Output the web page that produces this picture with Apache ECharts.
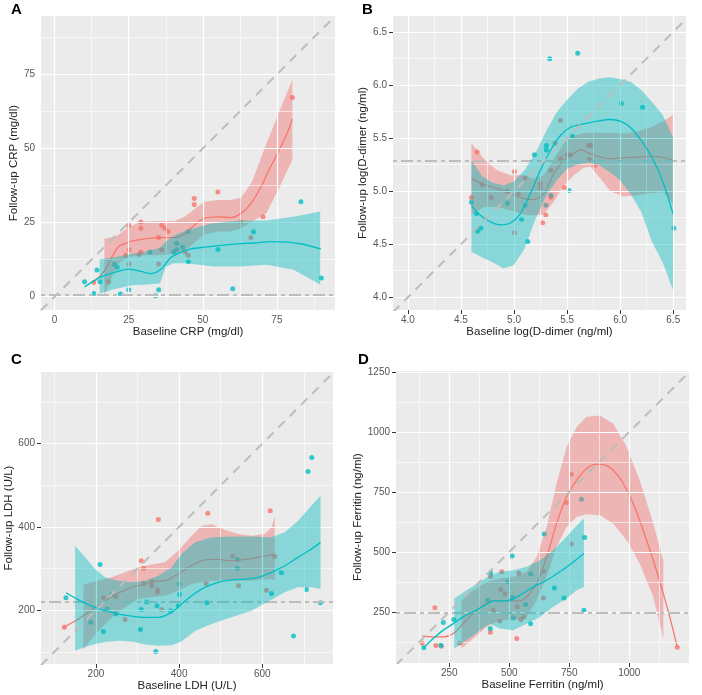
<!DOCTYPE html>
<html><head><meta charset="utf-8">
<script src="https://cdn.jsdelivr.net/npm/echarts@6/dist/echarts.min.js"></script>
<style>html,body{margin:0;padding:0;background:#fff}#c{width:702px;height:695px}</style>
</head><body><div id="c"></div>
<script>
// ---------- Panel A : CRP ----------
const aRedX = [13.1,25,29.1,29.1,36.1,37.2,38.3,47.1,47.1,55.1,25.1,29.1,35.1,70.3,63,80.2,24,25.1,28.5,35.1,36.1,44,45.1,66.2,18.2];
const aRedY = [4.8,24.1,25.2,23.1,24.1,23.1,22,33.1,31.1,35.3,15.8,15.1,20,27,25.2,67.2,14,11,14.2,11,15.8,15.1,14,20,5];
const aTealX = [10.1,13.2,14.3,15.3,20.1,21.1,22.2,25,32.2,34,35.1,40.2,41.2,41.2,43.2,45.1,45.1,55.1,60.1,67.1,83.1,90];
const aTealY = [5,1.1,9,5,10.9,9.9,0.9,2.3,15.1,0.3,2.3,15.1,18,15.8,16.7,21.9,11.9,15.9,2.7,21.9,32,6.3];
const aRedLineX = [13.1,16.8,21.3,25,29.2,34.8,40.4,43.8,47.1,50.5,55,59.5,62.9,66.3,69.6,72,74.5,77,79,80.2];
const aRedLineY = [4.8,8.7,16.6,18.4,19.3,19.9,19.9,21.2,24.1,26.4,26.9,26.7,28.1,31.5,37,42,47,52,56.5,60];
const aRedBandX = [16.8,19,21.3,25,29.2,34.8,40.4,43.8,47.1,50.5,55,59.5,62.9,66.5,71.5,76,80.2];
const aRedBandHi = [19.5,20,20.7,23.5,25.3,25.5,25.5,27,29.5,32,32.6,32.6,33.5,38.5,51.8,63,73.2];
const aRedBandLo = [0.5,6,11,13.3,14,14,14.5,15.5,18,21,22,22,23,25.3,28.2,37.2,46.2];
const aTealLineX = [10.1,15.3,20.2,24.9,29.2,32.6,35.9,39.3,42.7,46,50.5,56.1,61.7,67.4,73,78.6,84.2,89.8];
const aTealLineY = [3.3,6.5,8.2,9.3,8.5,7.8,9.3,13.3,15,16.1,16.7,17.3,17.8,18.1,18.6,18.4,17.6,16.1];
const aTealBandX = [15.2,20,26.5,30,35.5,37.5,40,44.5,53.5,62.5,71.5,80.6,89.6];
const aTealBandHi = [12.6,13.3,14.6,15,16.5,18.5,20.5,22.5,24.8,25.7,25.7,27,28.7];
const aTealBandLo = [1.1,2.5,3.9,4,4.4,10,11.3,11.3,10.2,10.2,10.8,9.1,4.1];
const aTicks = [0,25,50,75];
const aMinor = [12.5,37.5,62.5,87.5];
const aXLim = [-4.6,94.6];
const aYLim = [-4.5,94.7];
const aHLine = 0.8;

// ---------- Panel B : log(D-dimer) ----------
const bRedX = [4.652,4.599,5.004,5.004,5.27,5.299,5.346,5.474,5.437,5.387,5.72,5.70,5.763,4.784,4.935,5.041,5.104,5.248,5.248,5.348,5.44,5.5,5.53,5.71,4.70];
const bRedY = [5.368,4.939,5.186,4.607,4.701,4.776,4.942,5.033,5.665,5.452,5.43,5.43,5.243,4.939,5.002,4.973,5.124,5.07,5.03,5.196,5.305,5.343,5.343,5.3,5.06];
const bTealX = [4.599,4.646,4.656,4.687,4.938,5.07,5.129,5.192,5.305,5.305,5.348,5.104,5.518,5.55,6.011,6.211,6.506,5.337,5.60,5.30];
const bTealY = [4.895,4.786,4.623,4.651,4.886,4.736,4.526,5.343,5.43,5.387,4.961,4.867,5.005,5.518,5.825,5.79,4.651,6.248,6.30,4.867];
const bRedLineX = [4.599,4.715,4.841,4.966,5.092,5.186,5.28,5.374,5.468,5.562,5.625,5.719,5.813,5.907,6.033,6.158,6.283,6.409,6.497];
const bRedLineY = [5.117,5.064,5.023,4.977,4.93,4.92,4.977,5.164,5.289,5.352,5.39,5.352,5.32,5.305,5.315,5.32,5.327,5.315,5.29];
const bRedBandX = [4.599,4.715,4.841,4.966,5.092,5.186,5.28,5.374,5.468,5.562,5.656,5.719,5.813,5.907,6.033,6.158,6.283,6.409,6.497];
const bRedBandHi = [5.452,5.305,5.196,5.149,5.149,5.12,5.15,5.3,5.45,5.52,5.55,5.55,5.55,5.55,5.54,5.56,5.6,5.66,5.72];
const bRedBandLo = [4.78,4.85,4.85,4.82,4.78,4.77,4.78,4.9,5.05,5.15,5.22,5.23,5.12,5.0,4.95,4.96,4.98,4.99,4.88];
const bTealLineX = [4.599,4.684,4.778,4.872,4.966,5.06,5.154,5.248,5.343,5.437,5.531,5.656,5.782,5.907,6.001,6.095,6.221,6.315,6.409,6.497];
const bTealLineY = [4.861,4.773,4.71,4.682,4.70,4.789,4.977,5.196,5.383,5.524,5.602,5.634,5.659,5.675,5.659,5.602,5.446,5.289,5.07,4.789];
const bTealBandX = [4.599,4.70,4.80,4.90,5.00,5.10,5.20,5.30,5.40,5.50,5.60,5.70,5.80,5.90,6.00,6.10,6.20,6.30,6.40,6.497];
const bTealBandHi = [5.29,5.14,5.08,5.055,5.09,5.20,5.355,5.56,5.74,5.86,5.965,6.03,6.06,6.072,6.056,6.03,5.95,5.84,5.72,5.509];
const bTealBandLo = [4.429,4.375,4.33,4.272,4.304,4.46,4.73,4.95,5.10,5.21,5.25,5.27,5.245,5.18,5.10,4.97,4.80,4.52,4.33,4.069];
const bTicks = [4.0,4.5,5.0,5.5,6.0,6.5];
const bMinor = [4.25,4.75,5.25,5.75,6.25];
const bXLim = [3.86,6.62];
const bYLim = [3.88,6.65];
const bHLine = 5.29;

// ---------- Panel C : LDH ----------
const cRedX = [124,309,315,350,469,619,334,218,248,270,315,334,348,348,358,465,529,543,610,630];
const cRedY = [159,319,301,418,433,439,269,230,233,178,264,259,250,243,202,264,330,259,248,329];
const cTealX = [128,210,188,218,227,238,248,307,309,347,344,380,400,401,398,467,540,540,622,646,675,706,710,719,740,322];
const cTealY = [230,310,171,149,203,238,191,154,202,211,101,199,263,238,211,218,322,301,240,290,138,250,533,567,218,220];
const cRedLineX = [124,158,190,222,254,286,318,334,366,398,430,462,494,526,558,590,630];
const cRedLineY = [160,179,201,223,241,255,263,269,271,287,307,321,322,319,322,327,334];
const cRedBandX = [170,206,238,270,302,334,366,398,430,454,478,510,542,574,606,622,630];
const cRedBandHi = [262,271,279,291,303,310,315,343,379,403,407,393,383,379,383,399,425];
const cRedBandLo = [107,150,183,207,227,231,235,247,263,268,271,271,271,271,273,275,271];
const cTealLineX = [128,158,190,222,254,286,318,350,382,406,430,462,494,526,558,590,622,654,686,718,740];
const cTealLineY = [242,225,210,199,191,186,183,183,195,215,235,255,267,273,275,279,291,307,327,347,363];
const cTealBandX = [150,174,198,222,254,286,318,350,382,406,438,478,526,574,622,654,686,718,740];
const cTealBandHi = [355,327,299,279,271,267,271,283,303,335,363,375,377,377,375,387,415,451,475];
const cTealBandLo = [103,112,119,124,127,125,118,115,116,125,150,167,183,199,225,243,255,255,251];
const cTicks = [200,400,600];
const cMinor = [100,300,500,700];
const cXLim = [68,770];
const cYLim = [71,772];
const cHLine = 220;

// ---------- Panel D : Ferritin ----------
const dRedX = [137,190,194,217,422,421,469,461,531,560,738,758,1200,294,433,465,482,540,533,548,642,644,758];
const dRedY = [119,267,110,107,399,165,417,212,139,229,706,824,103,119,257,343,326,411,271,218,308,419,533];
const dTealX = [144,215,225,269,421,422,410,494,512,517,568,589,589,646,688,728,801,814,811,514];
const dTealY = [101,111,206,218,181,413,299,376,483,226,281,408,201,575,350,308,719,560,257,310];
const dRedLineX = [137,183,225,267,308,350,392,433,489,544,572,614,656,697,739,781,822,864,892,933,975,1017,1058,1100,1142,1176,1200];
const dRedLineY = [150,146,146,160,201,243,278,296,296,296,312,368,479,618,729,799,847,865,864,840,785,701,590,465,326,201,103];
const dRedBandX = [301,350,406,461,517,572,614,656,697,739,781,822,878,933,989,1044,1100,1142];
const dRedBandHi = [299,340,375,389,396,417,479,604,785,938,1021,1063,1069,1035,938,799,618,465];
const dRedBandLo = [97,139,188,215,215,229,299,396,521,604,646,657,653,618,549,451,312,139];
const dTealLineX = [144,183,225,267,308,350,392,412,433,489,544,600,656,711,767,811];
const dTealLineY = [101,139,174,201,229,250,274,285,296,296,319,354,382,417,458,493];
const dTealBandX = [271,322,378,419,461,517,572,628,683,739,781,811];
const dTealBandHi = [306,340,375,403,417,424,438,465,507,563,610,639];
const dTealBandLo = [97,132,174,201,181,174,201,229,271,306,340,354];
const dTicks = [250,500,750,1000,1250];
const dMinor = [125,375,625,875,1125];
const dXLim = [28,1249];
const dYLim = [37,1254];
const dHLine = 248;

// ---------- text ----------
const panelLetters = ['A','B','C','D'];
const xTitles = ['Baseline CRP (mg/dl)','Baseline log(D-dimer (ng/ml)','Baseline LDH (U/L)','Baseline Ferritin (ng/ml)'];
const yTitles = ['Follow-up CRP (mg/dl)','Follow-up log(D-dimer (ng/ml)','Follow-up LDH (U/L)','Follow-up Ferritin (ng/ml)'];

// ---------- build ----------
const RED = '#F8766D', TEAL = '#00BFC4';
const RED_FILL = 'rgba(240,110,105,0.42)', TEAL_FILL = 'rgba(0,185,190,0.42)';
const REF = '#BDBDBD';
const FONT = '"Liberation Sans", Arial, sans-serif';
const zip = (xs, ys) => xs.map((x, i) => [x, ys[i]]);

const panels = [
  {redX:aRedX,redY:aRedY,tealX:aTealX,tealY:aTealY,rlx:aRedLineX,rly:aRedLineY,rbx:aRedBandX,rbh:aRedBandHi,rbl:aRedBandLo,tlx:aTealLineX,tly:aTealLineY,tbx:aTealBandX,tbh:aTealBandHi,tbl:aTealBandLo,ticks:aTicks,minor:aMinor,xl:aXLim,yl:aYLim,h:aHLine,fmt:v=>String(v)},
  {redX:bRedX,redY:bRedY,tealX:bTealX,tealY:bTealY,rlx:bRedLineX,rly:bRedLineY,rbx:bRedBandX,rbh:bRedBandHi,rbl:bRedBandLo,tlx:bTealLineX,tly:bTealLineY,tbx:bTealBandX,tbh:bTealBandHi,tbl:bTealBandLo,ticks:bTicks,minor:bMinor,xl:bXLim,yl:bYLim,h:bHLine,fmt:v=>Number(v).toFixed(1)},
  {redX:cRedX,redY:cRedY,tealX:cTealX,tealY:cTealY,rlx:cRedLineX,rly:cRedLineY,rbx:cRedBandX,rbh:cRedBandHi,rbl:cRedBandLo,tlx:cTealLineX,tly:cTealLineY,tbx:cTealBandX,tbh:cTealBandHi,tbl:cTealBandLo,ticks:cTicks,minor:cMinor,xl:cXLim,yl:cYLim,h:cHLine,fmt:v=>String(v)},
  {redX:dRedX,redY:dRedY,tealX:dTealX,tealY:dTealY,rlx:dRedLineX,rly:dRedLineY,rbx:dRedBandX,rbh:dRedBandHi,rbl:dRedBandLo,tlx:dTealLineX,tly:dTealLineY,tbx:dTealBandX,tbh:dTealBandHi,tbl:dTealBandLo,ticks:dTicks,minor:dMinor,xl:dXLim,yl:dYLim,h:dHLine,fmt:v=>String(v)}
];

const grids = [
  {left:41, top:16, width:294, height:294},
  {left:393, top:16, width:293, height:294},
  {left:41, top:372, width:292, height:292},
  {left:396, top:371, width:293, height:292}
];
const yNameGaps = [16, 17.5, 23, 27];
const letterPos = [[11,2],[362,2],[11,352],[358,352]];

function bandSeries(i, xs, lo, hi, fill, z) {
  return {
    type:'custom', xAxisIndex:i, yAxisIndex:i, z:z, silent:true,
    data: xs.map((x,k)=>[x, lo[k], hi[k]]),
    encode:{x:0, y:[1,2]},
    renderItem: function(params, api){
      if (params.dataIndex !== 0) return null;
      const pts = [];
      for (let k=0;k<xs.length;k++) pts.push(api.coord([xs[k], hi[k]]));
      for (let k=xs.length-1;k>=0;k--) pts.push(api.coord([xs[k], lo[k]]));
      return {type:'polygon', shape:{points:pts}, style:{fill:fill}};
    }
  };
}

const xAxes = [], yAxes = [], series = [];
panels.forEach((p, i) => {
  const common = (isX, lim) => ({
    type:'value', gridIndex:i, min:lim[0], max:lim[1],
    axisLine:{show:false},
    axisTick:{show:true, length:4, customValues:p.ticks, lineStyle:{color:'#333', width:1}},
    axisLabel:{customValues:p.ticks, formatter:p.fmt, color:'#555555', fontSize:10, fontFamily:FONT, margin:isX?5:6},
    splitLine:{show:false},
    nameLocation:'middle',
    nameTextStyle:{fontSize:11.5, color:'#222', fontFamily:FONT}
  });
  xAxes.push(Object.assign(common(true, p.xl), {name:xTitles[i], nameGap:16}));
  yAxes.push(Object.assign(common(false, p.yl), {name:yTitles[i], nameGap:yNameGaps[i]}));

  // grid lines
  const gl = [];
  p.minor.forEach(v => { gl.push({xAxis:v, lineStyle:{width:0.6}}); gl.push({yAxis:v, lineStyle:{width:0.6}}); });
  p.ticks.forEach(v => { gl.push({xAxis:v, lineStyle:{width:1.2}}); gl.push({yAxis:v, lineStyle:{width:1.2}}); });
  series.push({type:'line', xAxisIndex:i, yAxisIndex:i, z:1, data:[], silent:true,
    markLine:{silent:true, symbol:['none','none'], label:{show:false}, animation:false,
      lineStyle:{color:'#ffffff', type:'solid'}, data:gl}});

  series.push({type:'scatter', xAxisIndex:i, yAxisIndex:i, z:2, symbolSize:5, itemStyle:{color:RED}, data:zip(p.redX,p.redY)});
  series.push({type:'scatter', xAxisIndex:i, yAxisIndex:i, z:2, symbolSize:5, itemStyle:{color:TEAL}, data:zip(p.tealX,p.tealY)});
  series.push(bandSeries(i, p.rbx, p.rbl, p.rbh, RED_FILL, 3));
  series.push({type:'line', xAxisIndex:i, yAxisIndex:i, z:4, showSymbol:false, smooth:0.3, lineStyle:{color:RED, width:1.3}, data:zip(p.rlx,p.rly)});
  series.push(bandSeries(i, p.tbx, p.tbl, p.tbh, TEAL_FILL, 5));
  series.push({type:'line', xAxisIndex:i, yAxisIndex:i, z:6, showSymbol:false, smooth:0.3, lineStyle:{color:TEAL, width:1.3}, data:zip(p.tlx,p.tly)});
  // identity line and reference line
  const lo = Math.min(p.xl[0], p.yl[0]), hi = Math.max(p.xl[1], p.yl[1]);
  series.push({type:'line', xAxisIndex:i, yAxisIndex:i, z:7, showSymbol:false, silent:true,
    lineStyle:{color:REF, width:2, type:[9,7]}, data:[[lo,lo],[hi,hi]],
    markLine:{silent:true, symbol:['none','none'], label:{show:false}, animation:false,
      lineStyle:{color:REF, width:2, type:[4,4,12,4]}, data:[{yAxis:p.h}]}});
});

const chart = echarts.init(document.getElementById('c'), null, {renderer:'canvas'});
chart.setOption({
  animation:false,
  backgroundColor:'#ffffff',
  grid: grids.map(g => Object.assign({show:true, backgroundColor:'#EBEBEB', borderWidth:0}, g)),
  xAxis:xAxes, yAxis:yAxes, series:series,
  graphic: panelLetters.map((t,i)=>({type:'text', left:letterPos[i][0], top:letterPos[i][1], style:{text:t, font:'bold 15px '+FONT, fill:'#000'}}))
});
</script></body></html>
